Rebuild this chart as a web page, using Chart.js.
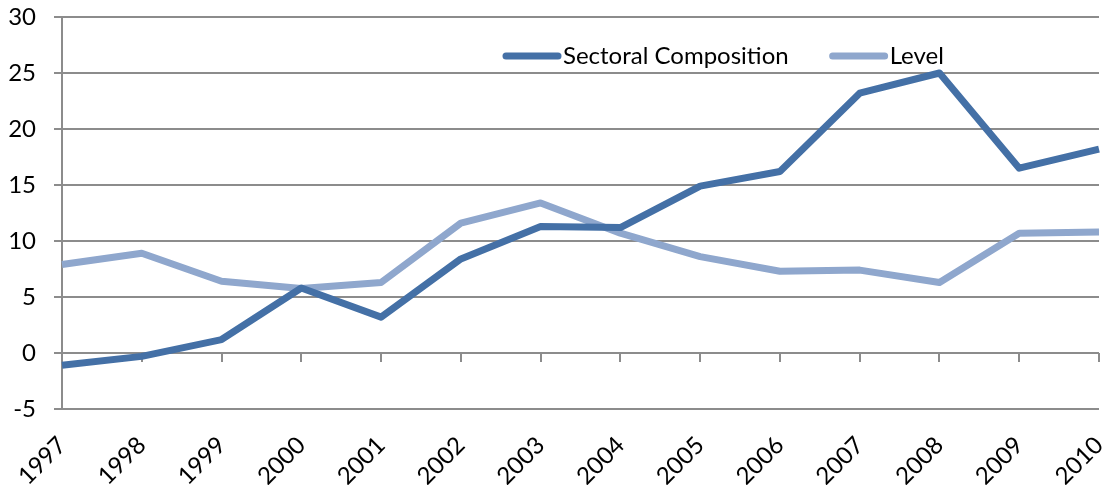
<!DOCTYPE html>
<html>
<head>
<meta charset="utf-8">
<script src="https://cdn.jsdelivr.net/npm/chart.js@4/dist/chart.umd.min.js"></script>
<style>
  html, body { margin: 0; padding: 0; background: #fff; }
  #wrap { width: 1107px; height: 485px; position: relative; }
</style>
</head>
<body>
<div id="wrap"><canvas id="c"></canvas></div>
<script>
const years = ["1997","1998","1999","2000","2001","2002","2003","2004","2005","2006","2007","2008","2009","2010"];
const sectoralComposition = [-1.1, -0.3, 1.2, 5.8, 3.2, 8.4, 11.3, 11.2, 14.9, 16.2, 23.2, 25.0, 16.5, 18.2];
const level = [7.9, 8.9, 6.4, 5.75, 6.3, 11.6, 13.4, 10.7, 8.6, 7.3, 7.4, 6.3, 10.7, 10.8];
const yTicks = { min: -5, max: 30, step: 5 };

const FONT = "Lato, 'DejaVu Sans', sans-serif";
const GRID = "#8c8c8c";

const zeroTicks = {
  id: 'zeroTicks',
  beforeDatasetsDraw(chart) {
    const x = chart.scales.x, y = chart.scales.y;
    const y0 = y.getPixelForValue(0);
    const ctx = chart.ctx;
    ctx.save();
    ctx.strokeStyle = GRID;
    ctx.lineWidth = 2;
    for (let i = 0; i < years.length; i++) {
      const px = Math.round(x.getPixelForValue(i));
      ctx.beginPath();
      ctx.moveTo(px, y0);
      ctx.lineTo(px, y0 + 9);
      ctx.stroke();
    }
    ctx.restore();
  }
};

const innerLegend = {
  id: 'innerLegend',
  afterDraw(chart) {
    const ctx = chart.ctx;
    ctx.save();
    ctx.font = "24px " + FONT;
    ctx.textBaseline = 'middle';
    ctx.textAlign = 'left';
    let x = 503;
    const yMid = 56;
    chart.data.datasets.forEach(ds => {
      ctx.strokeStyle = ds.borderColor;
      ctx.lineWidth = 7;
      ctx.lineCap = 'round';
      ctx.beginPath();
      ctx.moveTo(x + 3, yMid);
      ctx.lineTo(x + 55, yMid);
      ctx.stroke();
      ctx.fillStyle = '#000';
      ctx.fillText(ds.label, x + 60, yMid);
      x = x + 60 + ctx.measureText(ds.label).width + 41;
    });
    ctx.restore();
  }
};

new Chart(document.getElementById('c'), {
  type: 'line',
  data: {
    labels: years,
    datasets: [
      { label: 'Sectoral Composition', data: sectoralComposition, borderColor: '#4470a6', backgroundColor: '#4470a6',
        borderWidth: 7, pointRadius: 0, tension: 0, borderJoinStyle: 'round', fill: false },
      { label: 'Level', data: level, borderColor: '#8fa7cd', backgroundColor: '#8fa7cd',
        borderWidth: 7, pointRadius: 0, tension: 0, borderJoinStyle: 'round', fill: false }
    ]
  },
  options: {
    responsive: true,
    maintainAspectRatio: false,
    animation: false,
    layout: { padding: { left: 0, right: 8, top: 17, bottom: 0 } },
    plugins: { legend: { display: false }, tooltip: { enabled: false } },
    scales: {
      x: {
        type: 'category',
        offset: false,
        grid: { display: false },
        border: { display: false },
        ticks: { color: '#000', font: { family: FONT, size: 24 }, minRotation: 45, maxRotation: 45, padding: 14, autoSkip: false },
        afterFit(scale) { scale.paddingLeft = 0; scale.paddingRight = 0; scale.height = 76; }
      },
      y: {
        min: yTicks.min, max: yTicks.max,
        grid: { color: GRID, lineWidth: 2, tickLength: 8, drawTicks: true },
        border: { display: true, color: GRID, width: 2 },
        ticks: { stepSize: yTicks.step, color: '#000', font: { family: FONT, size: 24 }, padding: 18 },
        afterFit(scale) { scale.paddingTop = 0; scale.paddingBottom = 0; scale.width = 62; }
      }
    }
  },
  plugins: [zeroTicks, innerLegend]
});
</script>
</body>
</html>
